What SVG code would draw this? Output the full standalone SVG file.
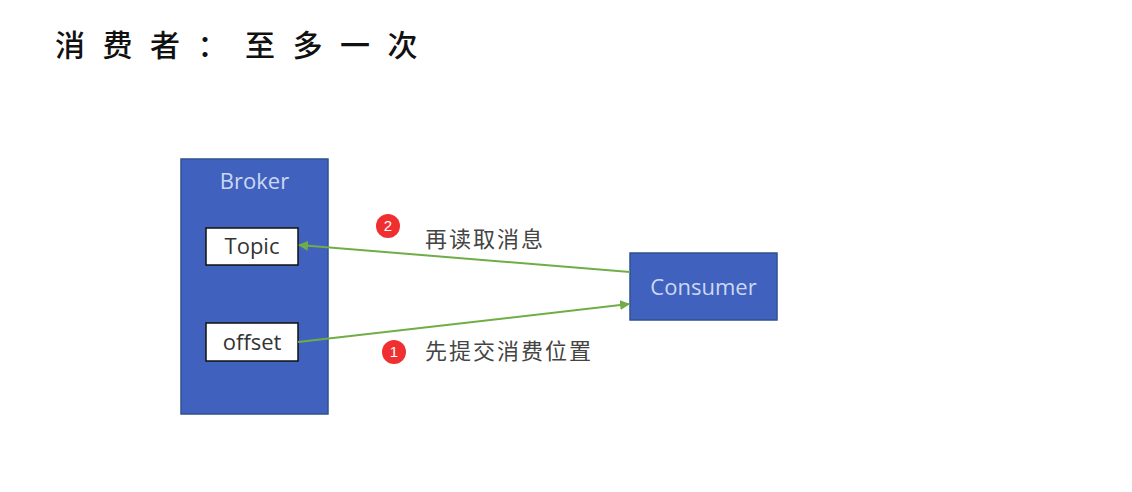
<svg xmlns="http://www.w3.org/2000/svg" width="1132" height="492" viewBox="0 0 1132 492">
<style>
.title{font-family:"Noto Sans CJK SC","Liberation Sans",sans-serif;font-size:30px;font-weight:500;fill:#111;letter-spacing:17.5px}
.blue{fill:#4062be;stroke:#2f528f;stroke-width:1.5}
.white{fill:#fff;stroke:#111;stroke-width:1.5}
.lt{font-family:"Open Sans","Liberation Sans",sans-serif;font-size:22px;fill:#ccd8f2;text-anchor:middle}
.bt{font-family:"Open Sans","Liberation Sans",sans-serif;font-size:22px;fill:#333;text-anchor:middle}
.cn{font-family:"Noto Sans CJK SC",sans-serif;font-size:22px;fill:#444;letter-spacing:2px}
.badge{fill:#f03030}
.bn{font-family:"Liberation Sans",sans-serif;font-size:15px;fill:#fff;text-anchor:middle}
.edge{stroke:#70ad47;stroke-width:2;fill:none;marker-end:url(#arr)}
</style>
<defs>
<marker id="arr" viewBox="0 0 10 10" refX="9" refY="5" markerWidth="5" markerHeight="5" orient="auto">
<path d="M0,0 L10,5 L0,10 z" fill="#70ad47"/>
</marker>
</defs>
<rect width="1132" height="492" fill="#fff"/>
<text class="title" x="55" y="56">消费者：至多一次</text>
<g id="broker">
<rect class="blue" x="181" y="159" width="147" height="255"/>
<text class="lt" x="254.5" y="189">Broker</text>
</g>
<g id="topic">
<rect class="white" x="206" y="228" width="92" height="37"/>
<text class="bt" x="252" y="254">Topic</text>
</g>
<g id="offset">
<rect class="white" x="206" y="323" width="92" height="38"/>
<text class="bt" x="252" y="350">offset</text>
</g>
<g id="consumer">
<rect class="blue" x="630" y="253" width="147" height="67"/>
<text class="lt" x="703.5" y="295">Consumer</text>
</g>
<g id="connectors">
<line class="edge" x1="630" y1="272" x2="299" y2="245"/>
<line class="edge" x1="298" y1="342" x2="629" y2="304"/>
</g>
<g id="label2">
<circle class="badge" cx="388" cy="226" r="12"/>
<text class="bn" x="388" y="231">2</text>
<text class="cn" x="425" y="247">再读取消息</text>
</g>
<g id="label1">
<circle class="badge" cx="394" cy="352" r="12"/>
<text class="bn" x="394" y="357">1</text>
<text class="cn" x="425" y="359">先提交消费位置</text>
</g>
</svg>
